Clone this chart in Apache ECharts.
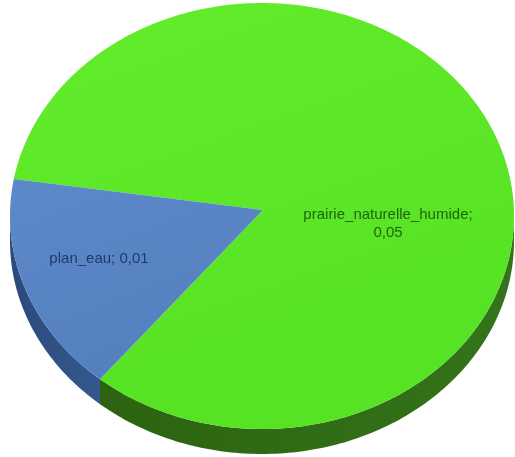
<!DOCTYPE html>
<html>
<head>
<meta charset="utf-8">
<script src="https://cdn.jsdelivr.net/npm/echarts@6/dist/echarts.min.js"></script>
<style>html,body{margin:0;padding:0;background:#fff;}#chart{width:515px;height:457px;}</style>
</head>
<body>
<div id="chart"></div>
<script>
const categories = ['prairie_naturelle_humide', 'plan_eau'];
const values = [0.05, 0.01];

const topColors = [['#63ec2b', '#56e324'], ['#5c89ca', '#5580c0']];
const sideColors = [['#2c6310', '#33741a'], ['#2b4a7a', '#35588e']];
const labelColors = ['#1f650f', '#1e3c66'];

// geometry (styling, not data)
const CX = 262, CY = 216, RX = 252, RY = 213, DEPTH = 25;
const APEX = [263, 210];
const START = 170; // degrees, math orientation, slices go clockwise
const labelPos = [[388, 224], [99, 259]];

const total = values.reduce((a, b) => a + b, 0);
const ranges = [];
let cur = START;
values.forEach(v => {
  const span = v / total * 360;
  ranges.push([cur - span, cur]); // [lo, hi]
  cur -= span;
});

function rim(deg, dy) {
  const t = deg * Math.PI / 180;
  return [CX + RX * Math.cos(t), CY - RY * Math.sin(t) + (dy || 0)];
}
function fmt(v) { return String(v).replace('.', ','); }

const chart = echarts.init(document.getElementById('chart'), null, {renderer: 'canvas'});
chart.setOption({
  animation: false,
  series: [{
    type: 'custom',
    coordinateSystem: 'none',
    data: values.map((v, i) => ({name: categories[i], value: v})),
    renderItem: function (params, api) {
      const i = params.dataIndex;
      const v = api.value(0);
      const [lo, hi] = ranges[i];
      const children = [];
      // side walls (front half only)
      for (const k of [-360, 0, 360]) {
        const s = Math.max(lo, 180 + k), e = Math.min(hi, 360 + k);
        if (e > s) {
          const pts = [];
          const n = Math.max(2, Math.ceil(e - s));
          for (let j = 0; j <= n; j++) pts.push(rim(s + (e - s) * j / n));
          for (let j = n; j >= 0; j--) pts.push(rim(s + (e - s) * j / n, DEPTH));
          children.push({
            type: 'polygon', z2: 1,
            shape: {points: pts},
            style: {fill: {type: 'linear', x: 0, y: 0, x2: 1, y2: 0,
              colorStops: [{offset: 0, color: sideColors[i][0]}, {offset: 1, color: sideColors[i][1]}]}}
          });
        }
      }
      // top face
      const top = [APEX];
      const n = Math.ceil(hi - lo);
      for (let j = 0; j <= n; j++) top.push(rim(lo + (hi - lo) * j / n));
      children.push({
        type: 'polygon', z2: 2,
        shape: {points: top},
        style: {fill: {type: 'linear', x: 0, y: 0, x2: 0.3, y2: 1,
          colorStops: [{offset: 0, color: topColors[i][0]}, {offset: 1, color: topColors[i][1]}]}}
      });
      const name = categories[i];
      const txt = i === 0 ? name + ';\n' + fmt(v) : name + '; ' + fmt(v);
      children.push({
        type: 'text', z2: 5,
        x: labelPos[i][0], y: labelPos[i][1],
        style: {text: txt, fill: labelColors[i], font: '15px "Liberation Sans"',
          align: 'center', verticalAlign: 'middle', lineHeight: 18}
      });
      return {type: 'group', children: children};
    }
  }]
});
</script>
</body>
</html>
